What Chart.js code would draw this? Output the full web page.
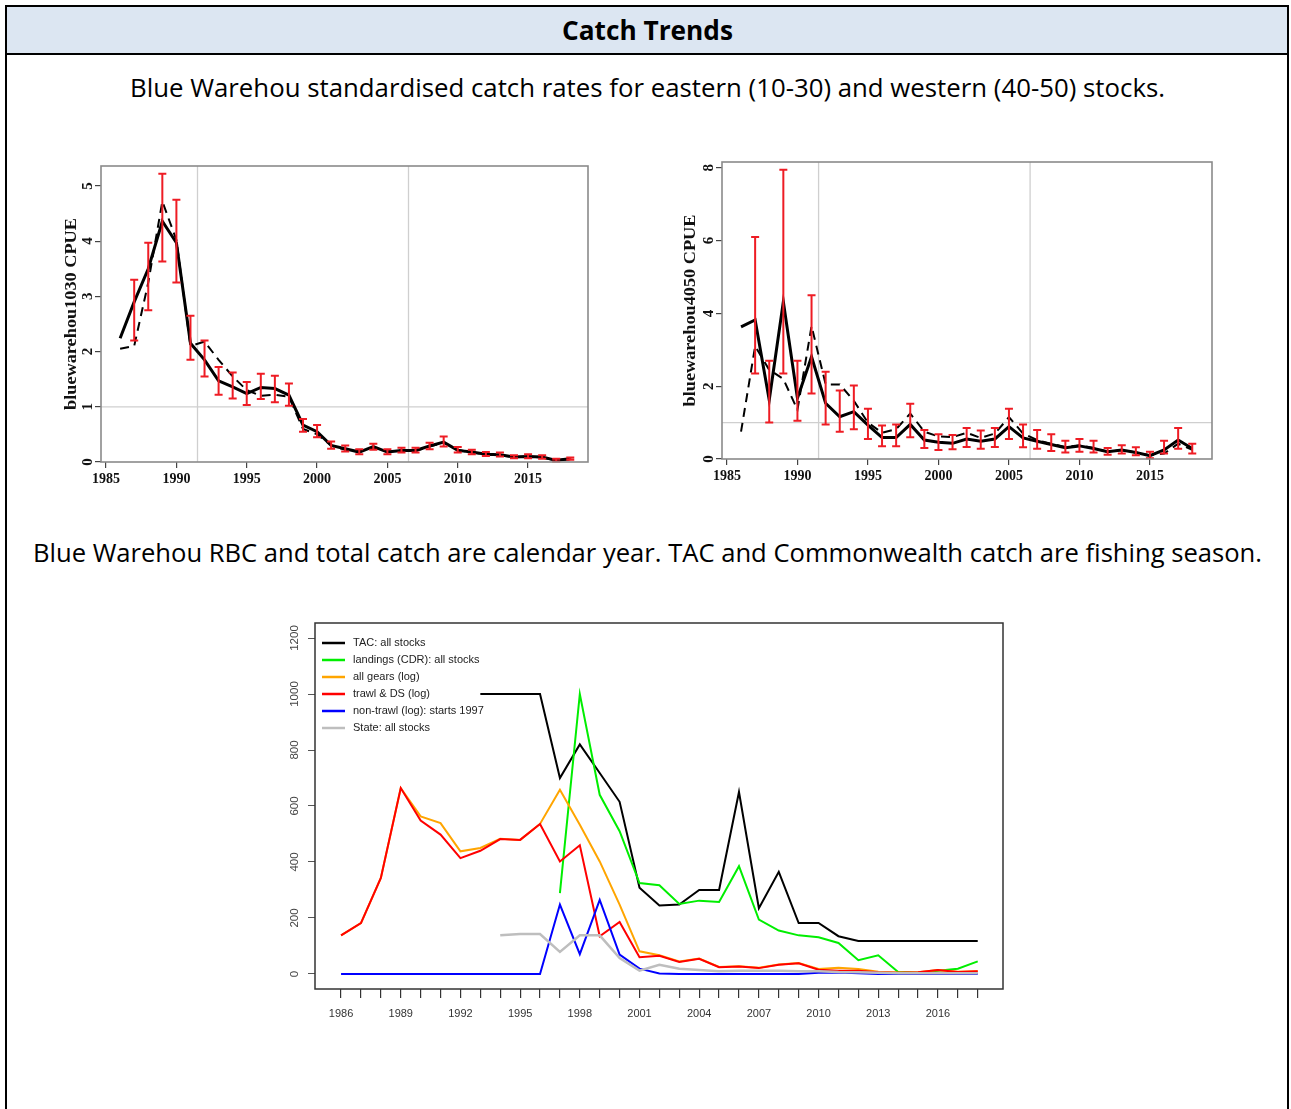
<!DOCTYPE html>
<html>
<head>
<meta charset="utf-8">
<script src="https://cdn.jsdelivr.net/npm/chart.js@4.4.1/dist/chart.umd.min.js"></script>
<style>
  html, body { margin: 0; padding: 0; background: #fff; }
  body { width: 1291px; height: 1109px; position: relative; overflow: hidden; font-family: 'Open Sans', 'Noto Sans', sans-serif; }
  #frame { position: absolute; left: 5px; top: 5px; width: 1280px; height: 1120px; border: 2px solid #000; border-bottom: none; }
  #head { position: absolute; left: 0; top: 0; width: 1280px; height: 46px; background: #dce6f2; border-bottom: 2px solid #000; }
  .fit { position: absolute; white-space: nowrap; transform-origin: 0 50%; color: #000; line-height: 1.2; }
  canvas { position: absolute; }
</style>
</head>
<body>
<div id="frame"><div id="head"></div></div>
<span class="fit" id="t0" style="font-size:26px;font-weight:700">Catch Trends</span>
<span class="fit" id="t1" style="font-size:25px">Blue Warehou standardised catch rates for eastern (10-30) and western (40-50) stocks.</span>
<span class="fit" id="t2" style="font-size:25px">Blue Warehou RBC and total catch are calendar year. TAC and Commonwealth catch are fishing season.</span>

<canvas id="east" width="560" height="350" style="left:50px;top:150px"></canvas>
<canvas id="west" width="562" height="354" style="left:670px;top:146px"></canvas>
<canvas id="catch" width="750" height="420" style="left:270px;top:610px"></canvas>

<script>
// ---- data ----
const years = [];
for (let y = 1986; y <= 2018; y++) years.push(y);

// eastern stock (10-30) CPUE
const eastStd = [2.24, 2.9, 3.5, 4.36, 3.97, 2.15, 1.85, 1.47, 1.36, 1.24, 1.35, 1.33, 1.21, 0.67, 0.55, 0.3, 0.24, 0.18, 0.28, 0.18, 0.21, 0.21, 0.29, 0.36, 0.21, 0.18, 0.14, 0.13, 0.09, 0.1, 0.09, 0.03, 0.06];
const eastNom = [2.05, 2.1, 3.25, 4.72, 4.02, 2.1, 2.18, 1.85, 1.55, 1.3, 1.2, 1.22, 1.18, 0.6, 0.5, 0.3, 0.22, 0.2, 0.26, 0.19, 0.21, 0.2, 0.28, 0.35, 0.22, 0.17, 0.14, 0.12, 0.09, 0.1, 0.08, 0.03, 0.05];
const eastLo = [null, 2.2, 2.75, 3.63, 3.25, 1.85, 1.55, 1.22, 1.15, 1.03, 1.14, 1.08, 1.02, 0.55, 0.45, 0.24, 0.19, 0.14, 0.22, 0.14, 0.17, 0.17, 0.23, 0.28, 0.17, 0.14, 0.11, 0.1, 0.07, 0.07, 0.06, 0.01, 0.04];
const eastHi = [null, 3.3, 3.97, 5.22, 4.75, 2.65, 2.2, 1.72, 1.62, 1.45, 1.6, 1.56, 1.42, 0.78, 0.67, 0.37, 0.3, 0.23, 0.33, 0.23, 0.26, 0.26, 0.35, 0.46, 0.27, 0.22, 0.18, 0.17, 0.12, 0.14, 0.12, 0.06, 0.08];

// western stock (40-50) CPUE
const westStd = [3.63, 3.82, 1.62, 4.32, 1.67, 2.81, 1.53, 1.16, 1.3, 0.93, 0.59, 0.59, 0.95, 0.52, 0.46, 0.43, 0.55, 0.49, 0.55, 0.89, 0.58, 0.49, 0.4, 0.31, 0.36, 0.29, 0.2, 0.25, 0.18, 0.09, 0.25, 0.52, 0.29];
const westNom = [0.75, 3.1, 2.45, 2.2, 1.35, 3.65, 2.05, 2.05, 1.6, 1.0, 0.72, 0.82, 1.25, 0.75, 0.62, 0.6, 0.72, 0.58, 0.7, 1.15, 0.7, 0.52, 0.42, 0.33, 0.38, 0.3, 0.2, 0.25, 0.18, 0.1, 0.15, 0.42, 0.25];
const westLo = [null, 2.35, 1.0, 2.35, 1.05, 1.8, 0.95, 0.75, 0.82, 0.55, 0.35, 0.35, 0.6, 0.3, 0.25, 0.27, 0.33, 0.28, 0.33, 0.55, 0.32, 0.28, 0.22, 0.18, 0.2, 0.18, 0.12, 0.15, 0.1, 0.02, 0.15, 0.28, 0.15];
const westHi = [null, 6.1, 2.7, 7.95, 2.7, 4.5, 2.4, 1.88, 2.02, 1.38, 0.92, 0.95, 1.52, 0.8, 0.68, 0.66, 0.85, 0.78, 0.85, 1.38, 0.95, 0.8, 0.68, 0.5, 0.55, 0.5, 0.3, 0.38, 0.32, 0.2, 0.5, 0.85, 0.42];

const cpueXTicks = [1985, 1990, 1995, 2000, 2005, 2010, 2015];
const refYears = [1991.5, 2006.5];
const refLevel = 1;

// catch series (t)
const catchLabels = ['TAC: all stocks', 'landings (CDR): all stocks', 'all gears (log)', 'trawl & DS (log)', 'non-trawl (log): starts 1997', 'State: all stocks'];
const tac = [null, null, null, null, null, null, null, 1000, 1000, 1000, 1000, 700, 820, 718, 615, 308, 245, 248, 300, 300, 650, 235, 365, 182, 182, 135, 118, 118, 118, 118, 118, 118, 118];
const landings = [null, null, null, null, null, null, null, null, null, null, null, 289, 1000, 640, 510, 325, 317, 250, 262, 257, 385, 194, 155, 138, 131, 111, 49, 67, 7, 4, 12, 19, 45];
const allGears = [138, 182, 343, 664, 563, 539, 438, 450, 483, 479, 536, 658, 533, 402, 248, 81, 67, 45, 55, 25, 28, 22, 34, 39, 18, 22, 18, 8, 5, 6, 14, 8, 10];
const trawlDS = [138, 182, 343, 664, 548, 498, 414, 440, 482, 479, 536, 402, 460, 135, 186, 60, 65, 43, 54, 24, 27, 21, 33, 38, 15, 12, 12, 6, 4, 6, 14, 7, 10];
const nonTrawl = [0, 0, 0, 0, 0, 0, 0, 0, 0, 0, 0, 248, 71, 265, 69, 19, 2, 0, 0, 0, 0, 0, 0, 0, 4, 5, 3, 0, 0, 0, 0, 0, 0];
const stateCatch = [null, null, null, null, null, null, null, null, 138, 143, 143, 79, 138, 138, 57, 12, 33, 19, 14, 10, 12, 12, 12, 10, 10, 7, 6, 4, 3, 3, 3, 3, 3];
const catchColors = ['#000000', '#00ee00', '#ffa500', '#ff0000', '#0000ff', '#bebebe'];
const catchYTicks = [0, 200, 400, 600, 800, 1000, 1200];

// ---- helpers ----
function pts(vals) {
  return years.map((yr, i) => ({ x: yr, y: vals[i] })).filter(p => p.y != null);
}

function fitText(id, cx, cy, w) {
  const el = document.getElementById(id);
  const r = el.getBoundingClientRect();
  const s = w / r.width;
  el.style.left = (cx - w / 2) + 'px';
  el.style.top = (cy - r.height / 2) + 'px';
  el.style.transform = 'scaleX(' + s + ')';
}
fitText('t0', 647.5, 31, 171);
fitText('t1', 647.5, 87, 1035);
fitText('t2', 647.5, 552, 1229);

// rotated y labels + box + reference lines + error bars for the CPUE plots
const cpueDeco = {
  id: 'cpueDeco',
  beforeDatasetsDraw(chart, args, o) {
    const { ctx, chartArea: a, scales: { x, y } } = chart;
    ctx.save();
    ctx.strokeStyle = '#cfcfcf';
    ctx.lineWidth = 1.3;
    ctx.beginPath();
    refYears.forEach(v => {
      const px = x.getPixelForValue(v);
      ctx.moveTo(px, a.top); ctx.lineTo(px, a.bottom);
    });
    const py = y.getPixelForValue(refLevel);
    ctx.moveTo(a.left, py); ctx.lineTo(a.right, py);
    ctx.stroke();
    ctx.restore();
  },
  afterDatasetsDraw(chart, args, o) {
    const { ctx, chartArea: a, scales: { x, y } } = chart;
    ctx.save();
    ctx.strokeStyle = '#ee1c24';
    ctx.lineWidth = 2;
    ctx.beginPath();
    years.forEach((yr, i) => {
      if (o.lo[i] == null) return;
      const px = x.getPixelForValue(yr);
      const p1 = y.getPixelForValue(o.lo[i]);
      const p2 = y.getPixelForValue(o.hi[i]);
      ctx.moveTo(px, p1); ctx.lineTo(px, p2);
      ctx.moveTo(px - 4, p1); ctx.lineTo(px + 4, p1);
      ctx.moveTo(px - 4, p2); ctx.lineTo(px + 4, p2);
    });
    ctx.stroke();
    ctx.strokeStyle = '#8a8a8a';
    ctx.lineWidth = 1.6;
    ctx.strokeRect(a.left, a.top, a.right - a.left, a.bottom - a.top);
    // y tick labels, turned like R's
    ctx.fillStyle = '#111';
    ctx.font = 'bold 15px "Liberation Serif", serif';
    ctx.textAlign = 'center';
    ctx.textBaseline = 'middle';
    y.ticks.forEach(t => {
      ctx.save();
      ctx.translate(a.left - 13, y.getPixelForValue(t.value));
      ctx.rotate(-Math.PI / 2);
      ctx.fillText(String(t.value), 0, 0);
      ctx.restore();
    });
    // y title
    ctx.font = 'bold 16px "Liberation Serif", serif';
    const w = ctx.measureText(o.title).width;
    ctx.save();
    ctx.translate(a.left - o.titleOff, (a.top + a.bottom) / 2);
    ctx.rotate(-Math.PI / 2);
    ctx.scale(o.titleLen / w, 1);
    ctx.fillText(o.title, 0, 0);
    ctx.restore();
    ctx.restore();
  }
};

function cpueChart(id, std, nom, lo, hi, box, yMax, yStep, title, titleOff) {
  const c = document.getElementById(id);
  return new Chart(c, {
    type: 'line',
    data: {
      datasets: [
        { data: pts(std), borderColor: '#000', borderWidth: 3, pointRadius: 0, tension: 0 },
        { data: pts(nom), borderColor: '#000', borderWidth: 2, borderDash: [9, 6], pointRadius: 0, tension: 0 }
      ]
    },
    options: {
      responsive: false,
      animation: false,
      events: [],
      layout: { padding: { top: box.pt, right: box.pr, left: 0, bottom: 0 } },
      plugins: {
        legend: { display: false },
        tooltip: { enabled: false },
        cpueDeco: { lo: lo, hi: hi, title: title, titleOff: titleOff, titleLen: 192 }
      },
      scales: {
        x: {
          type: 'linear',
          min: box.xMin, max: box.xMax,
          afterBuildTicks: s => { s.ticks = cpueXTicks.map(v => ({ value: v })); },
          afterFit: s => { s.height = box.xh; },
          border: { display: false },
          grid: { drawOnChartArea: false, drawTicks: true, tickLength: 6, color: '#444', lineWidth: 1.2 },
          ticks: { autoSkip: false, maxRotation: 0, padding: 3, color: '#111',
            font: { family: '"Liberation Serif", serif', weight: 'bold', size: 14 },
            callback: v => String(v) }
        },
        y: {
          type: 'linear',
          min: 0, max: yMax,
          afterBuildTicks: s => {
            const t = [];
            for (let v = 0; v <= yMax; v += yStep) t.push({ value: v });
            s.ticks = t;
          },
          afterFit: s => { s.width = box.yw; },
          border: { display: false },
          grid: { drawOnChartArea: false, drawTicks: true, tickLength: 6, color: '#444', lineWidth: 1.2 },
          ticks: { display: false }
        }
      }
    },
    plugins: [cpueDeco]
  });
}

cpueChart('east', eastStd, eastNom, eastLo, eastHi,
  { pt: 16, pr: 22, yw: 51, xh: 38, xMin: 1984.64, xMax: 2019.26 }, 5.36, 1, 'bluewarehou1030 CPUE', 29);
cpueChart('west', westStd, westNom, westLo, westHi,
  { pt: 16, pr: 20, yw: 52, xh: 41, xMin: 1984.65, xMax: 2019.4 }, 8.16, 2, 'bluewarehou4050 CPUE', 31);

// catch chart: box, turned y labels and legend drawn inside the plot
const catchDeco = {
  id: 'catchDeco',
  afterDraw(chart) {
    const { ctx, chartArea: a, scales: { y } } = chart;
    ctx.save();
    ctx.strokeStyle = '#333';
    ctx.lineWidth = 1.5;
    ctx.strokeRect(a.left, a.top, a.right - a.left, a.bottom - a.top);
    ctx.fillStyle = '#444';
    ctx.font = '11.5px "Liberation Sans", Arial, sans-serif';
    ctx.textAlign = 'center';
    ctx.textBaseline = 'middle';
    catchYTicks.forEach(v => {
      ctx.save();
      ctx.translate(a.left - 20, y.getPixelForValue(v));
      ctx.rotate(-Math.PI / 2);
      ctx.fillText(String(v), 0, 0);
      ctx.restore();
    });
    // legend
    ctx.font = '11px "Liberation Sans", Arial, sans-serif';
    ctx.textAlign = 'left';
    ctx.fillStyle = '#222';
    catchLabels.forEach((lab, i) => {
      const ly = a.top + 20 + i * 17;
      ctx.strokeStyle = catchColors[i];
      ctx.lineWidth = 2.5;
      ctx.beginPath();
      ctx.moveTo(a.left + 7, ly); ctx.lineTo(a.left + 30, ly);
      ctx.stroke();
      ctx.fillText(lab, a.left + 38, ly);
    });
    ctx.restore();
  }
};

const catchSeries = [tac, landings, allGears, trawlDS, nonTrawl, stateCatch];
new Chart(document.getElementById('catch'), {
  type: 'line',
  data: {
    datasets: catchSeries.map((vals, i) => ({
      label: catchLabels[i],
      data: pts(vals),
      borderColor: catchColors[i],
      borderWidth: i === 5 ? 2.5 : 2,
      pointRadius: 0,
      tension: 0,
      order: 6 - i
    }))
  },
  options: {
    responsive: false,
    animation: false,
    events: [],
    layout: { padding: { top: 13, right: 17, left: 0, bottom: 0 } },
    plugins: { legend: { display: false }, tooltip: { enabled: false } },
    scales: {
      x: {
        type: 'linear',
        min: 1984.69, max: 2019.27,
        afterBuildTicks: s => { s.ticks = years.map(v => ({ value: v })); },
        afterFit: s => { s.height = 41; },
        border: { display: false },
        grid: { drawOnChartArea: false, drawTicks: true, tickLength: 9, color: '#333', lineWidth: 1.2 },
        ticks: { autoSkip: false, maxRotation: 0, padding: 9, color: '#333',
          font: { family: '"Liberation Sans", Arial, sans-serif', size: 11 },
          callback: v => ((v - 1986) % 3 === 0 ? String(v) : '') }
      },
      y: {
        type: 'linear',
        min: -53.6, max: 1253.6,
        afterBuildTicks: s => { s.ticks = catchYTicks.map(v => ({ value: v })); },
        afterFit: s => { s.width = 45; },
        border: { display: false },
        grid: { drawOnChartArea: false, drawTicks: true, tickLength: 7, color: '#555', lineWidth: 1 },
        ticks: { display: false }
      }
    }
  },
  plugins: [catchDeco]
});
</script>
</body>
</html>
